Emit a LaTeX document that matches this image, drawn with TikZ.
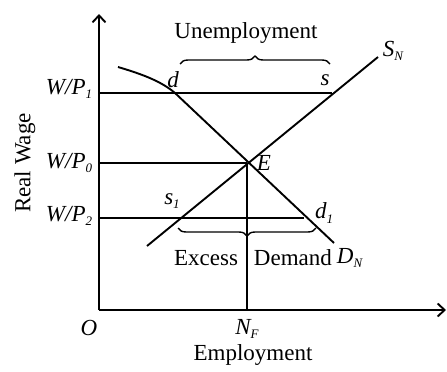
\documentclass[tikz,border=0pt]{standalone}
\usepackage{fontspec}
\setmainfont{Liberation Serif}
\usetikzlibrary{arrows.meta,decorations.pathreplacing}
\newcommand{\sbs}[1]{\raisebox{-0.45ex}{\fontsize{13}{13}\selectfont #1}}
\begin{document}
\begin{tikzpicture}[x=1pt,y=-1pt, line width=1.9pt,
  lbl/.style={font=\fontsize{23}{25}\selectfont, inner sep=0pt},
  ilbl/.style={font=\fontsize{23}{25}\selectfont\itshape, inner sep=0pt},
  axis/.style={-{Straight Barb[length=7pt,width=13pt,line width=1.9pt]}},
  brc/.style={decorate, decoration={brace, amplitude=8pt}, line width=1.4pt}]
\useasboundingbox (0,0) rectangle (447,372);
% axes
\coordinate (O) at (99,310);
\coordinate (ytop) at (99,14);
\coordinate (xend) at (446,310);
\draw[axis] (O) -- (ytop);
\draw[axis] (O) -- (xend);
% key points
\coordinate (E) at (247,163);
\coordinate (NF) at (247,310);
\coordinate (y1) at (99,93);
\coordinate (y0) at (99,163);
\coordinate (y2) at (99,218);
\coordinate (dpt) at (175,93);
\coordinate (spt) at (332,93);
\coordinate (d1pt) at (304,218);
\coordinate (Sstart) at (147,246);
\coordinate (Send) at (378,57);
\coordinate (Dstart) at (118,67);
\coordinate (Dend) at (334,243);
% curves
\draw (Sstart) -- (Send);
\draw (Dstart) .. controls (145,75) and (162,82) .. (dpt) -- (Dend);
% wage lines
\draw (y1) -- (spt);
\draw (y0) -- (E);
\draw (y2) -- (d1pt);
\draw (E) -- (NF);
% braces
\draw[brc] (180,64) -- (330,64);
\draw[brc] (316,228) -- (178,228);
% labels
\node[lbl] (unemp) at (246,33) {Unemployment};
\node[ilbl] (dlab) at (173,80) {d};
\node[ilbl] (slab) at (325,80) {s};
\node[ilbl] (SN) at (393,51) {S\sbs{N}};
\node[ilbl, anchor=east] (wp1) at (93,89) {W/P\sbs{1}};
\node[ilbl, anchor=east] (wp0) at (93,163) {W/P\sbs{0}};
\node[ilbl, anchor=east] (wp2) at (93,216) {W/P\sbs{2}};
\node[ilbl] (Elab) at (264,163) {E};
\node[ilbl] (s1lab) at (172,201) {s\sbs{1}};
\node[ilbl] (d1lab) at (324,213) {d\sbs{1}};
\node[lbl, anchor=east] (excess) at (239,258) {Excess};
\node[lbl, anchor=west] (demand) at (253,258) {Demand};
\node[ilbl, anchor=west] (DN) at (336,258) {D\sbs{N}};
\node[ilbl] (Olab) at (89,328) {O};
\node[ilbl] (NFlab) at (247,329) {N\sbs{F}};
\node[lbl] (emp) at (253,355) {Employment};
\node[lbl, rotate=90] (rw) at (25,163) {Real Wage};
\end{tikzpicture}
\end{document}
